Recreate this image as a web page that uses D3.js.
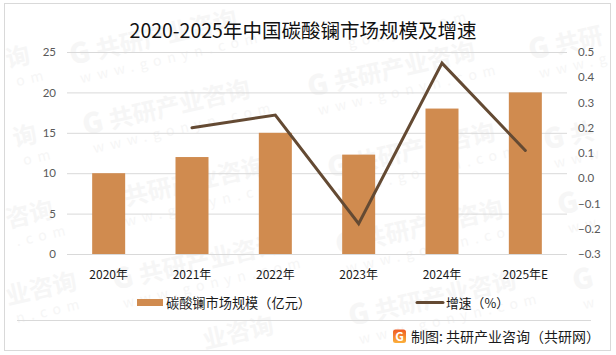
<!DOCTYPE html>
<html>
<head>
<meta charset="utf-8">
<script src="https://cdn.jsdelivr.net/npm/d3@7"></script>
<style>
  html, body { margin: 0; padding: 0; background: #fff; }
  svg { display: block; }
  text { font-family: "Noto Sans CJK SC", "Noto Sans", sans-serif; }
</style>
</head>
<body>
<div id="chart"></div>
<script>
const title = "2020-2025年中国碳酸镧市场规模及增速";
const years = ["2020年", "2021年", "2022年", "2023年", "2024年", "2025年E"];
const marketSize = [10, 12, 15, 12.3, 18, 20];
const growth = [null, 0.2, 0.25, -0.18, 0.456, 0.11];
const leftTicks = [0, 5, 10, 15, 20, 25];
const rightTicks = [-0.3, -0.2, -0.1, 0, 0.1, 0.2, 0.3, 0.4, 0.5];
const barName = "碳酸镧市场规模（亿元）";
const lineName = "增速（%）";
const sourceText = "制图: 共研产业咨询（共研网）";
const logoText = "G";
// watermark stamps: x, y, logo letter, name, url. the ones at the edges only keep what shows
const markSpots = [
    [72, 65, "G", "共研产业咨询", "www.gonyn.com"],
    [85, 135, "G", "共研产业咨询", "www.gonyn.com"],
    [100, 212, "G", "共研产业咨询", "www.gonyn.com"],
    [115, 290, "G", "共研产业咨询", "www.gonyn.com"],
    [310, 97, "G", "共研产业咨询", "www.gonyn.com"],
    [330, 178, "G", "共研产业咨询", "www.gonyn.com"],
    [338, 255, "G", "共研产业咨询", "www.gonyn.com"],
    [351, 326, "G", "共研产业咨询", "www.gonyn.com"],
    [531, 60, "G", "共研", "www.g"],
    [546, 150, "G", "共", "www"],
    [560, 215, "G", "", "ww"],
    [575, 291, "G", "", "w"],
    [8, 68, "", "询", "om"],
    [15, 147, "", "询", "om"],
    [8, 228, "", "咨询", ".com"],
    [8, 305, "", "业咨询", "n.com"],
    [340, 30, "", "", "gonyn.com"],
    [205, 349, "", "业咨询", ""]
];

const width = 616, height = 355;
const barColor = "#d08b4f", lineColor = "#644a33", gridColor = "#d9d9d9", markColor = "#f6f6f6";

const svg = d3.select("#chart").append("svg")
    .attr("width", width)
    .attr("height", height);

const logoGrad = svg.append("defs").append("linearGradient")
    .attr("id", "logoGrad")
    .attr("x1", 0).attr("y1", 0).attr("x2", 0).attr("y2", 1);
logoGrad.append("stop").attr("offset", "0%").attr("stop-color", "#ef5a24");
logoGrad.append("stop").attr("offset", "100%").attr("stop-color", "#fbb03b");

svg.append("rect")
    .attr("x", 4.5).attr("y", 3.5)
    .attr("width", 606).attr("height", 347)
    .attr("fill", "#fff")
    .attr("stroke", gridColor);

// watermark goes under everything
const marks = svg.append("g").selectAll("g")
    .data(markSpots)
    .join("g")
    .attr("transform", d => `translate(${d[0]},${d[1]}) rotate(-13)`)
    .attr("fill", markColor);
marks.append("text")
    .attr("x", 0).attr("y", 0)
    .attr("font-size", 28).attr("font-weight", 900)
    .text(d => d[2]);
marks.append("text")
    .attr("x", d => d[2] ? 27 : 0).attr("y", 0)
    .attr("font-size", 24).attr("font-weight", 700)
    .text(d => d[3]);
marks.append("text")
    .attr("x", 5).attr("y", 20)
    .attr("font-size", 14)
    .attr("letter-spacing", 6)
    .text(d => d[4]);

const x = d3.scaleBand().domain(years).range([67, 567]);
const yLeft = d3.scaleLinear().domain([0, 25]).range([254, 52]);
const yRight = d3.scaleLinear().domain([-0.3, 0.5]).range([254, 52]);

// gridlines
svg.append("g").selectAll("line")
    .data(leftTicks)
    .join("line")
    .attr("x1", 67).attr("x2", 567)
    .attr("y1", d => yLeft(d) + 0.5).attr("y2", d => yLeft(d) + 0.5)
    .attr("stroke", gridColor);

// bars
const barWidth = 33;
svg.append("g").selectAll("rect")
    .data(years)
    .join("rect")
    .attr("x", d => x(d) + x.bandwidth() / 2 - barWidth / 2)
    .attr("y", (d, i) => yLeft(marketSize[i]))
    .attr("width", barWidth)
    .attr("height", (d, i) => yLeft(0) - yLeft(marketSize[i]))
    .attr("fill", barColor);

// growth line, 2020 has no value
const line = d3.line()
    .defined(d => d.v !== null)
    .x(d => x(d.year) + x.bandwidth() / 2)
    .y(d => yRight(d.v));
svg.append("path")
    .attr("d", line(years.map((year, i) => ({ year, v: growth[i] }))))
    .attr("fill", "none")
    .attr("stroke", lineColor)
    .attr("stroke-width", 3)
    .attr("stroke-linecap", "round");

// axes
const axisLeft = d3.axisLeft(yLeft).tickValues(leftTicks).tickSize(0).tickPadding(0);
svg.append("g")
    .attr("transform", "translate(56,0)")
    .call(axisLeft)
    .call(g => g.select(".domain").remove())
    .call(g => g.selectAll("text").attr("font-size", 11.5).attr("fill", "#595959").style("font-family", "Lato, sans-serif"));

const axisRight = d3.axisRight(yRight).tickValues(rightTicks).tickSize(0).tickPadding(0).tickFormat(d3.format(".1f"));
svg.append("g")
    .attr("transform", "translate(578,0)")
    .call(axisRight)
    .call(g => g.select(".domain").remove())
    .call(g => g.selectAll("text").attr("font-size", 11.5).attr("fill", "#595959").style("font-family", "Lato, sans-serif"));

const axisBottom = d3.axisBottom(x).tickSize(0).tickPadding(0);
svg.append("g")
    .attr("transform", "translate(0,270)")
    .call(axisBottom)
    .call(g => g.select(".domain").remove())
    .call(g => g.selectAll("text").attr("font-size", 12).attr("fill", "#1a1a1a"));

// title
svg.append("text")
    .attr("x", 303).attr("y", 38)
    .attr("text-anchor", "middle")
    .attr("font-size", 19.5)
    .attr("fill", "#111")
    .text(title);

// legend
svg.append("rect")
    .attr("x", 137).attr("y", 299).attr("width", 26).attr("height", 7)
    .attr("fill", barColor);
svg.append("text")
    .attr("x", 166).attr("y", 308)
    .attr("font-size", 13.2).attr("fill", "#1a1a1a")
    .text(barName);
svg.append("line")
    .attr("x1", 417).attr("x2", 443).attr("y1", 302.5).attr("y2", 302.5)
    .attr("stroke", lineColor).attr("stroke-width", 3).attr("stroke-linecap", "round");
svg.append("text")
    .attr("x", 446).attr("y", 308)
    .attr("font-size", 12.8).attr("fill", "#1a1a1a")
    .text(lineName);

// footer
svg.append("line")
    .attr("x1", 17).attr("x2", 591).attr("y1", 320.5).attr("y2", 320.5)
    .attr("stroke", gridColor);
svg.append("rect")
    .attr("x", 393).attr("y", 329.5).attr("width", 13).attr("height", 13.5).attr("rx", 2.5)
    .attr("fill", "url(#logoGrad)");
svg.append("text")
    .attr("x", 399.5).attr("y", 340.5)
    .attr("text-anchor", "middle")
    .attr("font-size", 12).attr("font-weight", 700).attr("fill", "#fff")
    .text(logoText);
svg.append("text")
    .attr("x", 411).attr("y", 342)
    .attr("font-size", 14).attr("fill", "#1a1a1a")
    .text(sourceText);
</script>
</body>
</html>
